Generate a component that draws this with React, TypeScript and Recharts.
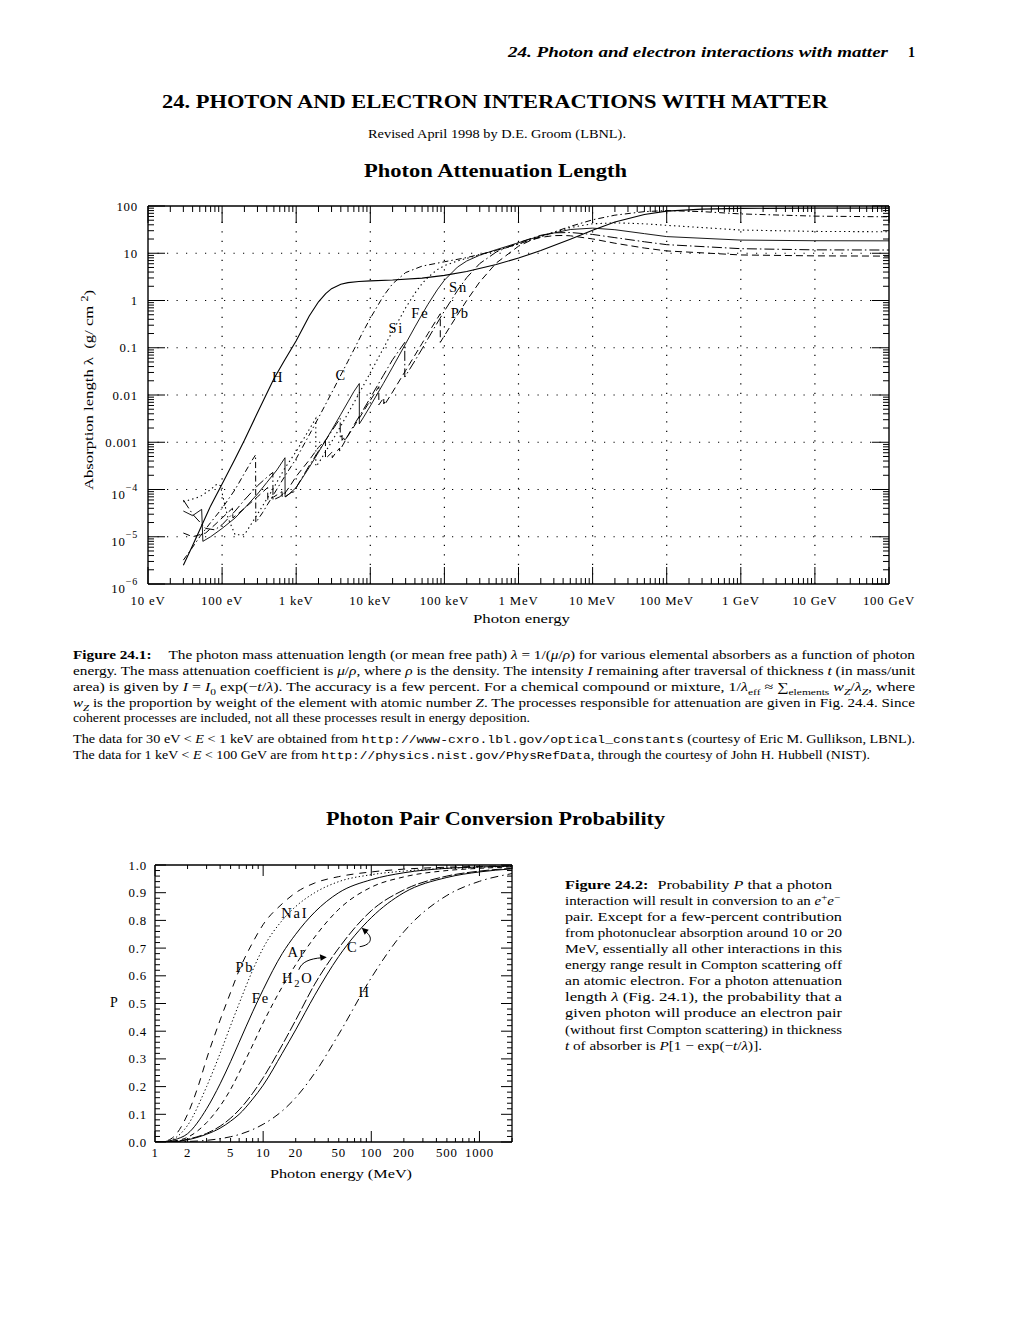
import React from 'react';
import { LineChart, Line, XAxis, YAxis, ReferenceLine, ReferenceDot } from 'recharts';

const SERIF = '"Liberation Serif", "Times New Roman", Times, serif';
const MONO = '"Liberation Mono", "DejaVu Sans Mono", monospace';

// ---------------- Figure 24.1 : photon energy (eV) -> attenuation length (g/cm^2)
const H_ATT: [number, number][] = [
  [30, 2.5e-6], [40, 6.5e-6], [50, 1.4e-5], [70, 4.5e-5], [100, 1.3e-4], [150, 4.5e-4],
  [200, 1.1e-3], [300, 4.2e-3], [500, 0.022], [700, 0.055], [1000, 0.14], [1500, 0.47],
  [2000, 0.94], [2500, 1.4], [3000, 1.78], [4000, 2.2], [5000, 2.39], [7000, 2.52],
  [1e4, 2.6], [2e4, 2.71], [5e4, 2.98], [1e5, 3.4], [2e5, 4.1], [5e5, 5.8], [1e6, 7.9],
  [2e6, 11.4], [5e6, 19.8], [1e7, 30.8], [2e7, 46], [5e7, 66], [1e8, 78], [3e8, 86],
  [1e9, 89], [1e10, 90], [1e11, 90],
];
const C_ATT: [number, number][] = [
  [30, 3.2e-6], [40, 6e-6], [50, 1e-5], [70, 2e-5], [100, 4e-5], [150, 1e-4], [200, 2.2e-4],
  [250, 4e-4], [283, 5.4e-4], [285, 2e-5], [350, 3.2e-5], [500, 8e-5], [700, 1.9e-4],
  [1000, 4.5e-4], [1500, 1.43e-3], [2000, 3.3e-3], [3000, 0.011], [4000, 0.0265],
  [5000, 0.052], [6000, 0.091], [8000, 0.22], [1e4, 0.42], [1.5e4, 1.24], [2e4, 2.26],
  [3e4, 3.9], [5e4, 5.34], [1e5, 6.6], [2e5, 8.1], [5e5, 11.5], [1e6, 15.7], [2e6, 22.5],
  [5e6, 37], [1e7, 51], [2e7, 64], [5e7, 76], [1e8, 80], [3e8, 76], [1e9, 68], [1e10, 61],
  [1e11, 59],
];
const SI_ATT: [number, number][] = [
  [30, 5.5e-5], [50, 7e-5], [70, 1e-4], [85, 1.3e-4], [95, 1.2e-4], [105, 6e-5], [120, 2.5e-5],
  [150, 1.1e-5], [200, 1.1e-5], [300, 3e-5], [500, 1.1e-4], [700, 2.8e-4], [1000, 6.4e-4],
  [1500, 1.87e-3], [1838, 3.2e-3], [1840, 3.1e-4], [2000, 3.6e-4], [3000, 1.02e-3],
  [4000, 2.2e-3], [5000, 4.1e-3], [6000, 6.8e-3], [8000, 0.0155], [1e4, 0.0295],
  [1.5e4, 0.097], [2e4, 0.224], [3e4, 0.7], [4e4, 1.43], [5e4, 2.28], [6e4, 3.1], [8e4, 4.5],
  [1e5, 5.45], [1.5e5, 6.9], [2e5, 7.8], [3e5, 9.2], [5e5, 11.4], [1e6, 15.7], [2e6, 22.4],
  [5e6, 35], [1e7, 42], [2e7, 44], [5e7, 42], [1e8, 39], [1e9, 31], [1e10, 29], [1e11, 28.5],
];
const FE_ATT: [number, number][] = [
  [30, 3.5e-5], [40, 2.8e-5], [53, 3.8e-5], [55, 8e-6], [70, 1e-5], [100, 1.5e-5], [150, 2.5e-5],
  [200, 4e-5], [300, 8e-5], [400, 1.4e-4], [550, 2.6e-4], [706, 4.7e-4], [708, 7e-5],
  [800, 8e-5], [1000, 1.1e-4], [1500, 2.94e-4], [2000, 6.15e-4], [3000, 1.79e-3],
  [4000, 3.9e-3], [5000, 7.15e-3], [6000, 0.0118], [7110, 0.0175], [7114, 2.45e-3],
  [8000, 3.27e-3], [1e4, 5.86e-3], [1.5e4, 0.0175], [2e4, 0.0389], [3e4, 0.122], [4e4, 0.276],
  [5e4, 0.511], [6e4, 0.83], [8e4, 1.68], [1e5, 2.69], [1.5e5, 5.09], [2e5, 6.85], [3e5, 9.1],
  [5e5, 11.9], [1e6, 16.7], [2e6, 23.4], [5e6, 31.8], [1e7, 34], [2e7, 31.5], [5e7, 26],
  [1e8, 22.5], [1e9, 19], [1e10, 18.4], [1e11, 18.3],
];
const SN_ATT: [number, number][] = [
  [30, 6e-5], [40, 3e-5], [60, 1.5e-5], [80, 1.4e-5], [100, 1.8e-5], [150, 3.5e-5], [200, 6e-5],
  [300, 1.2e-4], [400, 1.8e-4], [484, 2.3e-4], [486, 6e-5], [600, 7e-5], [714, 9e-5],
  [716, 7e-5], [884, 9e-5], [886, 8e-5], [1000, 1.1e-4], [1500, 3.2e-4], [2000, 6.5e-4],
  [3000, 1.7e-3], [3928, 3.2e-3], [3930, 1.2e-3], [4155, 1.4e-3], [4157, 1.1e-3],
  [4464, 1.3e-3], [4466, 1.05e-3], [5000, 1.4e-3], [6000, 2.3e-3], [8000, 4.8e-3],
  [1e4, 8.7e-3], [1.5e4, 0.026], [2e4, 0.056], [2.919e4, 0.13], [2.921e4, 0.024],
  [4e4, 0.053], [5e4, 0.095], [6e4, 0.155], [8e4, 0.334], [1e5, 0.6], [1.5e5, 1.62],
  [2e5, 3.05], [3e5, 6.06], [5e5, 10.6], [1e6, 16.8], [2e6, 24], [3e6, 27], [5e6, 27.5],
  [1e7, 25], [2e7, 21.4], [5e7, 17.5], [1e8, 15.2], [1e9, 12.5], [1e10, 11.8], [1e11, 11.7],
];
const PB_ATT: [number, number][] = [
  [30, 1.2e-5], [40, 1e-5], [60, 1.2e-5], [80, 1.8e-5], [100, 2.5e-5], [138, 4e-5], [140, 2.5e-5],
  [200, 4e-5], [300, 7e-5], [412, 1.1e-4], [414, 6e-5], [500, 7e-5], [644, 9e-5], [646, 7e-5],
  [800, 1.1e-4], [1000, 1.9e-4], [1500, 4.2e-4], [2000, 7.8e-4], [2480, 1.1e-3],
  [2484, 4.5e-4], [3000, 6e-4], [3064, 6.3e-4], [3066, 4.7e-4], [3500, 6.3e-4], [3850, 7.5e-4],
  [3852, 6.5e-4], [4000, 7.3e-4], [5000, 1.37e-3], [6000, 2.14e-3], [8000, 4.37e-3],
  [1e4, 7.66e-3], [1.303e4, 0.015], [1.304e4, 6.2e-3], [1.5e4, 8.5e-3], [1.52e4, 8.8e-3],
  [1.521e4, 6.5e-3], [1.585e4, 7.3e-3], [1.586e4, 6.5e-3], [2e4, 0.0116], [3e4, 0.033],
  [4e4, 0.0696], [5e4, 0.124], [6e4, 0.199], [8e4, 0.413], [8.8e4, 0.524], [8.801e4, 0.13],
  [1e5, 0.18], [1.5e5, 0.497], [2e5, 1.0], [3e5, 2.48], [5e5, 6.2], [1e6, 14.1], [1.5e6, 19.1],
  [2e6, 21.7], [3e6, 23.6], [4e6, 23.8], [5e6, 23.4], [1e7, 20.1], [2e7, 16.3], [5e7, 12.9],
  [1e8, 11.2], [1e9, 9.2], [1e10, 8.8], [1e11, 8.7],
];

const ATT_SERIES = [
  { name: 'H', data: H_ATT, dash: undefined as string | undefined, w: 1.1 },
  { name: 'C', data: C_ATT, dash: '6 3 1.5 3', w: 1 },
  { name: 'Si', data: SI_ATT, dash: '1.4 3.2', w: 1.1 },
  { name: 'Fe', data: FE_ATT, dash: undefined, w: 0.9 },
  { name: 'Sn', data: SN_ATT, dash: '10 3 1.5 3', w: 1 },
  { name: 'Pb', data: PB_ATT, dash: '7 4', w: 1 },
];
const ATT_LABELS = [
  { t: 'H', e: 571, v: 0.024 },
  { t: 'C', e: 4050, v: 0.0265 },
  { t: 'Si', e: 22400, v: 0.262 },
  { t: 'Fe', e: 47400, v: 0.544 },
  { t: 'Sn', e: 155000, v: 1.93 },
  { t: 'Pb', e: 164000, v: 0.544 },
];

const X1_MAJOR = [1e1, 1e2, 1e3, 1e4, 1e5, 1e6, 1e7, 1e8, 1e9, 1e10, 1e11];
const X1_LABELS = ['10 eV', '100 eV', '1 keV', '10 keV', '100 keV', '1 MeV', '10 MeV', '100 MeV', '1 GeV', '10 GeV', '100 GeV'];
const Y1_MAJOR = [1e-6, 1e-5, 1e-4, 1e-3, 1e-2, 1e-1, 1, 10, 100];
const Y1_LABELS = ['10^−6', '10^−5', '10^−4', '0.001', '0.01', '0.1', '1', '10', '100'];

// ---------------- Figure 24.2 : photon energy (MeV) -> pair conversion probability
const PB_P: [number, number][] = [[1, 0], [1.2, 0.002], [1.5, 0.02], [2, 0.1], [2.5, 0.2], [3, 0.3], [4, 0.44], [5, 0.54], [6, 0.62], [8, 0.72], [10, 0.785], [15, 0.86], [20, 0.9], [30, 0.935], [50, 0.958], [100, 0.975], [200, 0.985], [500, 0.992], [1000, 0.995], [2000, 0.997]];
const NAI_P: [number, number][] = [[1, 0], [1.2, 0.001], [1.5, 0.012], [2, 0.06], [3, 0.2], [4, 0.32], [5, 0.42], [6, 0.5], [8, 0.62], [10, 0.7], [15, 0.8], [20, 0.85], [30, 0.9], [50, 0.94], [100, 0.965], [200, 0.978], [500, 0.988], [1000, 0.992], [2000, 0.995]];
const FE_P: [number, number][] = [[1, 0], [1.2, 0.001], [1.5, 0.008], [2, 0.03], [3, 0.12], [4, 0.21], [5, 0.29], [6, 0.36], [8, 0.47], [10, 0.55], [15, 0.68], [20, 0.75], [30, 0.83], [50, 0.9], [100, 0.947], [200, 0.972], [500, 0.988], [1000, 0.993], [2000, 0.996]];
const AR_P: [number, number][] = [[1, 0], [1.5, 0.004], [2, 0.017], [3, 0.07], [4, 0.13], [5, 0.19], [6, 0.25], [8, 0.35], [10, 0.43], [15, 0.56], [20, 0.64], [30, 0.74], [50, 0.84], [100, 0.92], [200, 0.957], [500, 0.98], [1000, 0.988], [2000, 0.993]];
const H2O_P: [number, number][] = [[1, 0], [1.5, 0.002], [2, 0.01], [3, 0.031], [4, 0.057], [5, 0.086], [6, 0.116], [8, 0.176], [10, 0.232], [15, 0.35], [20, 0.44], [30, 0.57], [50, 0.7], [100, 0.835], [200, 0.91], [500, 0.96], [1000, 0.978], [2000, 0.988]];
const C_P: [number, number][] = [[1, 0], [1.5, 0.001], [2, 0.008], [3, 0.028], [4, 0.05], [5, 0.075], [6, 0.1], [8, 0.155], [10, 0.205], [15, 0.32], [20, 0.405], [30, 0.53], [50, 0.67], [100, 0.81], [200, 0.9], [500, 0.955], [1000, 0.975], [2000, 0.986]];
const H_P: [number, number][] = [[1, 0], [2, 0.002], [3, 0.006], [4, 0.012], [5, 0.019], [6, 0.027], [8, 0.045], [10, 0.064], [15, 0.112], [20, 0.16], [30, 0.249], [50, 0.389], [100, 0.593], [200, 0.759], [500, 0.89], [1000, 0.941], [2000, 0.969]];

const PAIR_SERIES = [
  { name: 'Pb', data: PB_P, dash: '7 6' as string | undefined },
  { name: 'NaI', data: NAI_P, dash: '1.3 2.4' },
  { name: 'Fe', data: FE_P, dash: undefined },
  { name: 'Ar', data: AR_P, dash: '5 4' },
  { name: 'H2O', data: H2O_P, dash: '10 2.5' },
  { name: 'C', data: C_P, dash: undefined },
  { name: 'H', data: H_P, dash: '8 4 1.5 4' },
];
const PAIR_LABELS = [
  { t: 'NaI', e: 19.6, p: 0.827, arrow: '' },
  { t: 'Pb', e: 6.78, p: 0.632, arrow: '' },
  { t: 'Ar', e: 20.5, p: 0.687, arrow: '' },
  { t: 'C', e: 67.3, p: 0.705, arrow: 'c' },
  { t: 'H2O', e: 20.9, p: 0.593, arrow: 'h2o' },
  { t: 'Fe', e: 9.52, p: 0.52, arrow: '' },
  { t: 'H', e: 86.9, p: 0.542, arrow: '' },
];
const X2_MAJOR = [1, 10, 100, 1000];
const X2_LABELLED = [1, 2, 5, 10, 20, 50, 100, 200, 500, 1000];

// ---------------- layout constants
const P1 = { left: 148, top: 206, w: 741, h: 378 };
const P2 = { left: 155, top: 865, w: 357, h: 277 };

const X1_TICKS: number[] = [];
X1_MAJOR.forEach((d, i) => {
  X1_TICKS.push(d);
  if (i < X1_MAJOR.length - 1) for (let k = 2; k <= 9; k++) X1_TICKS.push(d * k);
});
const Y1_TICKS: number[] = [];
Y1_MAJOR.forEach((d, i) => {
  Y1_TICKS.push(d);
  if (i < Y1_MAJOR.length - 1) for (let k = 2; k <= 9; k++) Y1_TICKS.push(d * k);
});
const X2_TICKS: number[] = [];
[1, 10, 100].forEach((d) => { for (let k = 1; k <= 9; k++) X2_TICKS.push(d * k); });
X2_TICKS.push(1000, 2000);
const Y2_TICKS: number[] = [];
for (let i = 0; i <= 50; i++) Y2_TICKS.push(i / 50);

const toPts = (arr: [number, number][]) => arr.map(([e, v]) => ({ e, v }));

const tickFont = { fontFamily: SERIF, fontSize: 12.8, letterSpacing: 0.8, fill: '#000' };

function Tick1X(props: any) {
  const { x, y, payload } = props;
  const idx = X1_MAJOR.indexOf(payload.value);
  const len = idx >= 0 ? 17 : 6;
  return (
    <g>
      <line x1={x} x2={x} y1={y} y2={y - len} stroke="#000" strokeWidth={1} />
      <line x1={x} x2={x} y1={y - P1.h} y2={y - P1.h + len} stroke="#000" strokeWidth={1} />
      {idx >= 0 && (
        <text x={x} y={y + 21} textAnchor="middle" {...tickFont}>{X1_LABELS[idx]}</text>
      )}
    </g>
  );
}

function Tick1Y(props: any) {
  const { x, y, payload } = props;
  const idx = Y1_MAJOR.indexOf(payload.value);
  const len = idx >= 0 ? 17 : 6;
  let label: React.ReactNode = null;
  if (idx >= 0) {
    const s = Y1_LABELS[idx];
    if (s.includes('^')) {
      const [b, ex] = s.split('^');
      label = (
        <text x={x - 10} y={y + 9} textAnchor="end" {...tickFont}>
          <tspan>{b}</tspan>
          <tspan dy={-8} fontSize={10}>{ex}</tspan>
        </text>
      );
    } else {
      label = <text x={x - 10} y={y + 4.5} textAnchor="end" {...tickFont}>{s}</text>;
    }
  }
  return (
    <g>
      <line x1={x} x2={x + len} y1={y} y2={y} stroke="#000" strokeWidth={1} />
      <line x1={x + P1.w} x2={x + P1.w - len} y1={y} y2={y} stroke="#000" strokeWidth={1} />
      {label}
    </g>
  );
}

function Tick2X(props: any) {
  const { x, y, payload } = props;
  const v = payload.value;
  const major = X2_MAJOR.indexOf(v) >= 0;
  const len = major ? 11 : 4;
  const lab = X2_LABELLED.indexOf(v) >= 0;
  return (
    <g>
      <line x1={x} x2={x} y1={y} y2={y - len} stroke="#000" strokeWidth={1} />
      <line x1={x} x2={x} y1={y - P2.h} y2={y - P2.h + len} stroke="#000" strokeWidth={1} />
      {lab && <text x={x} y={y + 15} textAnchor="middle" {...tickFont}>{String(v)}</text>}
    </g>
  );
}

function Tick2Y(props: any) {
  const { x, y, payload } = props;
  const i = Math.round(payload.value * 50);
  const major = i % 5 === 0;
  const len = major ? 11 : 5;
  return (
    <g>
      <line x1={x} x2={x + len} y1={y} y2={y} stroke="#000" strokeWidth={1} />
      <line x1={x + P2.w} x2={x + P2.w - len} y1={y} y2={y} stroke="#000" strokeWidth={1} />
      {major && (
        <text x={x - 8} y={y + 4.5} textAnchor="end" {...tickFont}>{(i / 50).toFixed(1)}</text>
      )}
    </g>
  );
}

const labelFont = { fontFamily: SERIF, fontSize: 14.5, letterSpacing: 1.8, fill: '#000' };

function AttLabelShape(text: string) {
  return (props: any) => (
    <text x={props.cx} y={props.cy + 5} textAnchor="middle" {...labelFont}>{text}</text>
  );
}

function PairLabelShape(text: string, arrow: string) {
  return (props: any) => {
    const cx = props.cx;
    const cy = props.cy;
    return (
      <g>
        {text === 'H2O' ? (
          <text x={cx} y={cy + 5} textAnchor="middle" {...labelFont}>
            <tspan>H</tspan>
            <tspan dy={4} fontSize={10.5}>2</tspan>
            <tspan dy={-4}>O</tspan>
          </text>
        ) : (
          <text x={cx} y={cy + 5} textAnchor="middle" {...labelFont}>{text}</text>
        )}
        {arrow === 'c' && (
          <g>
            <path d={`M ${cx + 7} ${cy} C ${cx + 20} ${cy - 2}, ${cx + 20} ${cy - 10}, ${cx + 13} ${cy - 15}`} fill="none" stroke="#000" strokeWidth={1} />
            <polygon points={`${cx + 9},${cy - 19} ${cx + 16},${cy - 17} ${cx + 12},${cy - 12}`} fill="#000" />
          </g>
        )}
        {arrow === 'h2o' && (
          <g>
            <path d={`M ${cx + 1} ${cy - 8} C ${cx + 4} ${cy - 16}, ${cx + 12} ${cy - 19}, ${cx + 24} ${cy - 20}`} fill="none" stroke="#000" strokeWidth={1} />
            <polygon points={`${cx + 29},${cy - 20.5} ${cx + 22},${cy - 23.5} ${cx + 23},${cy - 17}`} fill="#000" />
          </g>
        )}
      </g>
    );
  };
}

function AttenuationChart() {
  const top = 180;
  const H = 460;
  const xAxisH = 40;
  const yAxisW = 60;
  const margin = {
    top: P1.top - top,
    left: P1.left - yAxisW,
    right: 1020 - (P1.left + P1.w),
    bottom: H - (P1.top - top) - P1.h - xAxisH,
  };
  return (
    <div style={{ position: 'absolute', left: 0, top }}>
      <LineChart width={1020} height={H} margin={margin}>
        <XAxis
          dataKey="e" type="number" scale="log" domain={[10, 1e11]} allowDataOverflow
          ticks={X1_TICKS} interval={0} tickLine={false} tickSize={0} tickMargin={0}
          height={xAxisH} axisLine={{ stroke: '#000', strokeWidth: 1.4 }}
          tick={(p: any) => <Tick1X {...p} />}
        />
        <YAxis
          type="number" scale="log" domain={[1e-6, 100]} allowDataOverflow
          ticks={Y1_TICKS} interval={0} tickLine={false} tickSize={0} tickMargin={0}
          width={yAxisW} axisLine={{ stroke: '#000', strokeWidth: 1.4 }}
          tick={(p: any) => <Tick1Y {...p} />}
        />
        {X1_MAJOR.slice(1, -1).map((v) => (
          <ReferenceLine key={'gx' + v} x={v} stroke="#000" strokeWidth={1.2} strokeDasharray="1.2 8.3" />
        ))}
        {Y1_MAJOR.slice(1, -1).map((v) => (
          <ReferenceLine key={'gy' + v} y={v} stroke="#000" strokeWidth={1.2} strokeDasharray="1.2 8.3" />
        ))}
        <ReferenceLine y={100} stroke="#000" strokeWidth={1.4} />
        <ReferenceLine x={1e11} stroke="#000" strokeWidth={1.4} />
        {ATT_SERIES.map((s) => (
          <Line
            key={s.name} name={s.name} data={toPts(s.data)} dataKey="v" type="linear"
            stroke="#000" strokeWidth={s.w} strokeDasharray={s.dash} dot={false}
            isAnimationActive={false}
          />
        ))}
        {ATT_LABELS.map((l) => (
          <ReferenceDot key={'l' + l.t} x={l.e} y={l.v} r={0} shape={AttLabelShape(l.t)} />
        ))}
      </LineChart>
    </div>
  );
}

function PairChart() {
  const top = 840;
  const H = 350;
  const xAxisH = 30;
  const yAxisW = 40;
  const margin = {
    top: P2.top - top,
    left: P2.left - yAxisW,
    right: 1020 - (P2.left + P2.w),
    bottom: H - (P2.top - top) - P2.h - xAxisH,
  };
  return (
    <div style={{ position: 'absolute', left: 0, top }}>
      <LineChart width={1020} height={H} margin={margin}>
        <XAxis
          dataKey="e" type="number" scale="log" domain={[1, 2000]} allowDataOverflow
          ticks={X2_TICKS} interval={0} tickLine={false} tickSize={0} tickMargin={0}
          height={xAxisH} axisLine={{ stroke: '#000', strokeWidth: 1.3 }}
          tick={(p: any) => <Tick2X {...p} />}
        />
        <YAxis
          type="number" domain={[0, 1]} allowDataOverflow
          ticks={Y2_TICKS} interval={0} tickLine={false} tickSize={0} tickMargin={0}
          width={yAxisW} axisLine={{ stroke: '#000', strokeWidth: 1.3 }}
          tick={(p: any) => <Tick2Y {...p} />}
        />
        <ReferenceLine y={1} stroke="#000" strokeWidth={1.3} />
        <ReferenceLine x={2000} stroke="#000" strokeWidth={1.3} />
        {PAIR_SERIES.map((s) => (
          <Line
            key={s.name} name={s.name} data={toPts(s.data)} dataKey="v" type="monotone"
            stroke="#000" strokeWidth={1} strokeDasharray={s.dash} dot={false}
            isAnimationActive={false}
          />
        ))}
        {PAIR_LABELS.map((l) => (
          <ReferenceDot key={'p' + l.t} x={l.e} y={l.p} r={0} shape={PairLabelShape(l.t, l.arrow)} />
        ))}
      </LineChart>
    </div>
  );
}

// ---------------- page text
type Seg = { t: string; b?: boolean; i?: boolean; m?: boolean; sub?: boolean; sup?: boolean; dx?: number };

function Para(props: { x: number; y: number; w?: number; size: number; segs: Seg[]; anchor?: string; bold?: boolean; italic?: boolean }) {
  const { x, y, w, size, segs, anchor, bold, italic } = props;
  let shift = 0;
  const spans = segs.map((s, k) => {
    const target = s.sub ? size * 0.28 : s.sup ? -size * 0.38 : 0;
    const dy = target - shift;
    shift = target;
    return (
      <tspan
        key={k}
        dy={dy !== 0 ? dy : undefined}
        dx={s.dx}
        fontWeight={s.b ? 'bold' : undefined}
        fontStyle={s.i ? 'italic' : undefined}
        fontFamily={s.m ? MONO : undefined}
        fontSize={s.sub || s.sup ? size * 0.72 : s.m ? size * 0.92 : undefined}
      >
        {s.t}
      </tspan>
    );
  });
  return (
    <text
      x={x} y={y} fontFamily={SERIF} fontSize={size} fill="#000"
      textLength={w} lengthAdjust={w ? 'spacingAndGlyphs' : undefined}
      textAnchor={anchor as any}
      fontWeight={bold ? 'bold' : undefined}
      fontStyle={italic ? 'italic' : undefined}
      xmlSpace="preserve"
      style={{ whiteSpace: 'pre' }}
    >
      {spans}
    </text>
  );
}

const CAP1: { y: number; w?: number; segs: Seg[] }[] = [
  { y: 659, w: 842, segs: [{ t: 'Figure 24.1:', b: true }, { t: 'The photon mass attenuation length (or mean free path) ', dx: 14 }, { t: 'λ', i: true }, { t: ' = 1/(' }, { t: 'μ', i: true }, { t: '/' }, { t: 'ρ', i: true }, { t: ') for various elemental absorbers as a function of photon' }] },
  { y: 675, w: 842, segs: [{ t: 'energy. The mass attenuation coefficient is ' }, { t: 'μ', i: true }, { t: '/' }, { t: 'ρ', i: true }, { t: ', where ' }, { t: 'ρ', i: true }, { t: ' is the density. The intensity ' }, { t: 'I', i: true }, { t: ' remaining after traversal of thickness ' }, { t: 't', i: true }, { t: ' (in mass/unit' }] },
  { y: 691, w: 842, segs: [{ t: 'area) is given by ' }, { t: 'I', i: true }, { t: ' = ' }, { t: 'I', i: true }, { t: '0', sub: true }, { t: ' exp(−' }, { t: 't', i: true }, { t: '/' }, { t: 'λ', i: true }, { t: '). The accuracy is a few percent. For a chemical compound or mixture, 1/' }, { t: 'λ', i: true }, { t: 'eff', sub: true }, { t: ' ≈ ∑' }, { t: 'elements', sub: true }, { t: ' ' }, { t: 'w', i: true }, { t: 'Z', i: true, sub: true }, { t: '/' }, { t: 'λ', i: true }, { t: 'Z', i: true, sub: true }, { t: ', where' }] },
  { y: 707, w: 842, segs: [{ t: 'w', i: true }, { t: 'Z', i: true, sub: true }, { t: ' is the proportion by weight of the element with atomic number ' }, { t: 'Z', i: true }, { t: '. The processes responsible for attenuation are given in Fig. 24.4. Since' }] },
  { y: 722, w: 457, segs: [{ t: 'coherent processes are included, not all these processes result in energy deposition.' }] },
  { y: 743, w: 842, segs: [{ t: 'The data for 30 eV < ' }, { t: 'E', i: true }, { t: ' < 1 keV are obtained from ' }, { t: 'http://www-cxro.lbl.gov/optical_constants', m: true }, { t: ' (courtesy of Eric M. Gullikson, LBNL).' }] },
  { y: 759, w: 797, segs: [{ t: 'The data for 1 keV < ' }, { t: 'E', i: true }, { t: ' < 100 GeV are from ' }, { t: 'http://physics.nist.gov/PhysRefData', m: true }, { t: ', through the courtesy of John H. Hubbell (NIST).' }] },
];

const CAP2: { y: number; w: number; segs: Seg[] }[] = [
  { y: 889, w: 267, segs: [{ t: 'Figure 24.2:', b: true }, { t: 'Probability ', dx: 7 }, { t: 'P', i: true }, { t: ' that a photon' }] },
  { y: 905, w: 275, segs: [{ t: 'interaction will result in conversion to an ' }, { t: 'e', i: true }, { t: '+', sup: true }, { t: 'e', i: true }, { t: '−', sup: true }] },
  { y: 921, w: 277, segs: [{ t: 'pair. Except for a few-percent contribution' }] },
  { y: 937, w: 277, segs: [{ t: 'from photonuclear absorption around 10 or 20' }] },
  { y: 953, w: 277, segs: [{ t: 'MeV, essentially all other interactions in this' }] },
  { y: 969, w: 277, segs: [{ t: 'energy range result in Compton scattering off' }] },
  { y: 985, w: 277, segs: [{ t: 'an atomic electron. For a photon attenuation' }] },
  { y: 1001, w: 277, segs: [{ t: 'length ' }, { t: 'λ', i: true }, { t: ' (Fig. 24.1), the probability that a' }] },
  { y: 1017, w: 277, segs: [{ t: 'given photon will produce an electron pair' }] },
  { y: 1034, w: 277, segs: [{ t: '(without first Compton scattering) in thickness' }] },
  { y: 1050, w: 197, segs: [{ t: 't', i: true }, { t: ' of absorber is ' }, { t: 'P', i: true }, { t: '[1 − exp(−' }, { t: 't', i: true }, { t: '/' }, { t: 'λ', i: true }, { t: ')].' }] },
];

function PageText() {
  return (
    <svg width={1020} height={1320} style={{ position: 'absolute', left: 0, top: 0 }}>
      <Para x={508} y={57} w={380} size={15} bold italic segs={[{ t: '24. Photon and electron interactions with matter' }]} />
      <Para x={908} y={57} size={14} bold segs={[{ t: '1' }]} />
      <Para x={162} y={108} w={666} size={19.5} bold segs={[{ t: '24. PHOTON AND ELECTRON INTERACTIONS WITH MATTER' }]} />
      <Para x={368} y={138} w={258} size={12} segs={[{ t: 'Revised April 1998 by D.E. Groom (LBNL).' }]} />
      <Para x={364} y={177} w={263} size={18} bold segs={[{ t: 'Photon Attenuation Length' }]} />
      <g transform="translate(93,390) rotate(-90)">
        <Para x={-100} y={0} w={200} size={13} segs={[{ t: 'Absorption length ' }, { t: 'λ' }, { t: '  (g/ cm ' }, { t: '2', sup: true }, { t: ')' }]} />
      </g>
      <Para x={473} y={623} w={97} size={13} segs={[{ t: 'Photon energy' }]} />
      {CAP1.map((l, k) => (
        <Para key={'c1' + k} x={73} y={l.y} w={l.w} size={12.5} segs={l.segs} />
      ))}
      <Para x={326} y={825} w={339} size={18} bold segs={[{ t: 'Photon Pair Conversion Probability' }]} />
      {CAP2.map((l, k) => (
        <Para key={'c2' + k} x={565} y={l.y} w={l.w} size={12.5} segs={l.segs} />
      ))}
      <Para x={110} y={1007} size={14} segs={[{ t: 'P' }]} />
      <Para x={270} y={1178} w={142} size={13} segs={[{ t: 'Photon energy (MeV)' }]} />
    </svg>
  );
}

export default function App() {
  return (
    <div style={{ position: 'absolute', left: 0, top: 0, width: 1020, height: 1320, background: '#fff' }}>
      <PageText />
      <AttenuationChart />
      <PairChart />
    </div>
  );
}
